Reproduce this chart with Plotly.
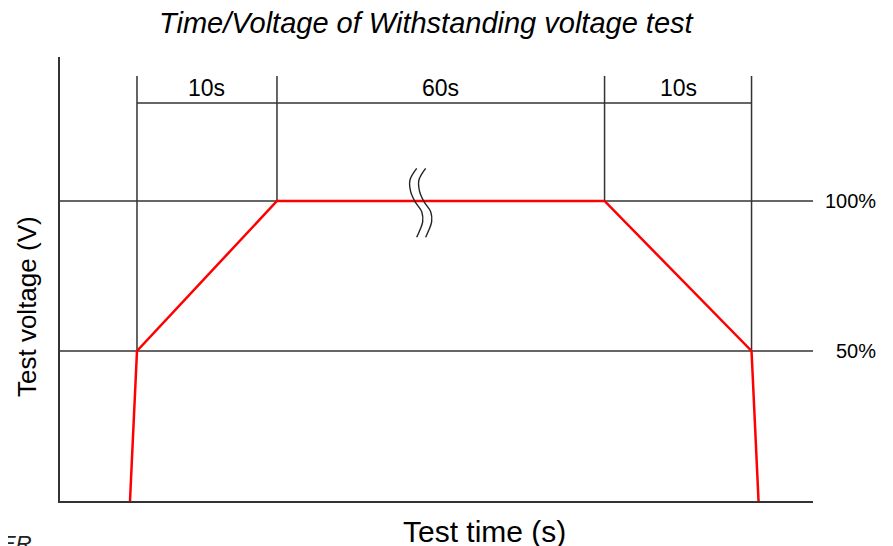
import plotly.graph_objects as go

# ---------------- data ----------------
# schematic time axis (s); the 60 s hold is drawn compressed (axis break)
curve_time = [-0.5, 0, 10, 33.4, 43.9, 44.4]
curve_voltage = [0, 50, 100, 100, 50, 0]          # % of test voltage

marker_time = [0, 10, 33.4, 43.9]                  # phase boundaries
marker_bottom = [50, 100, 100, 50]                 # where each boundary line ends
segment_labels = ["10s", "60s", "10s"]

level_values = [100, 50]
level_labels = ["100%", "50%"]

break_time = 20.3                                  # position of the axis-break glyph
break_level = 100

title_text = "Time/Voltage of Withstanding voltage test"
x_title = "Test time (s)"
y_title = "Test voltage (V)"
corner_text = "ER"

# ---------------- layout constants ----------------
X_RANGE = [-5.5, 48.29]
Y_RANGE = [0, 148]
DIM_Y = 132.7       # dimension line level
MARK_TOP = 141.7    # top of boundary lines
LINE_COL = "#333333"
FONT = "Liberation Sans, Arial, sans-serif"

W, H = 893, 546
OFF = 8                     # page body margin offset
ML, MT = 60 - OFF, 57 - OFF
pw, ph = 753, 444
MR, MB = W - ML - pw, H - MT - ph


def page_to_paper(px, py):
    fx, fy = px - OFF, py - OFF
    return (fx - ML) / pw, (H - fy - MB) / ph


fig = go.Figure()

# red time/voltage curve
fig.add_trace(go.Scatter(
    x=curve_time, y=curve_voltage, mode="lines",
    line=dict(color="#ff0000", width=2.5), hoverinfo="skip", showlegend=False,
))

shapes = []
for lv in level_values:
    shapes.append(dict(type="line", xref="x", yref="y", x0=X_RANGE[0], x1=X_RANGE[1],
                       y0=lv, y1=lv, line=dict(color=LINE_COL, width=1.5), layer="below"))
for t, b in zip(marker_time, marker_bottom):
    shapes.append(dict(type="line", xref="x", yref="y", x0=t, x1=t, y0=b, y1=MARK_TOP,
                       line=dict(color=LINE_COL, width=1.5), layer="below"))
shapes.append(dict(type="line", xref="x", yref="y", x0=marker_time[0], x1=marker_time[-1],
                   y0=DIM_Y, y1=DIM_Y, line=dict(color=LINE_COL, width=1.5), layer="below"))

# axis-break glyph: two S-shaped strokes (offsets relative to break position)
glyph_dx = [-0.32, -0.8, -0.75, -0.44, 0.04, 0.11, -0.09, -0.32]
glyph_dy = [10.9, 7.0, 3.1, -0.2, -3.6, -6.9, -9.7, -12.1]
for shift in (0.0, 0.64):
    fig.add_trace(go.Scatter(
        x=[break_time + d + shift for d in glyph_dx],
        y=[break_level + d for d in glyph_dy],
        mode="lines", line=dict(color="#222222", width=1.4, shape="spline"),
        hoverinfo="skip", showlegend=False,
    ))

annotations = []
for i, lab in enumerate(segment_labels):
    annotations.append(dict(x=(marker_time[i] + marker_time[i + 1]) / 2, y=DIM_Y, xref="x", yref="y",
                            text=lab, showarrow=False, xanchor="center", yanchor="middle", yshift=15,
                            font=dict(family=FONT, size=23, color="#000000")))
for lv, lab in zip(level_values, level_labels):
    annotations.append(dict(x=X_RANGE[1], y=lv, xref="x", yref="y", text=lab, showarrow=False,
                            xanchor="right", yanchor="middle", xshift=65,
                            font=dict(family=FONT, size=20, color="#000000")))


def page_ann(px, py, text, size, **kw):
    x, y = page_to_paper(px, py)
    d = dict(x=x, y=y, xref="paper", yref="paper", text=text, showarrow=False,
             xanchor=kw.pop("xanchor", "center"), yanchor=kw.pop("yanchor", "middle"),
             font=dict(family=FONT, size=size, color=kw.pop("color", "#000000")))
    d.update(kw)
    annotations.append(d)


page_ann(427, 23, "<i>" + title_text + "</i>", 29)
page_ann(484, 531, x_title, 30)
page_ann(27, 307, y_title, 26, textangle=-90)
page_ann(-1, 529, "<i>" + corner_text + "</i>", 22, xanchor="left", yanchor="top", color="#222222")

fig.update_layout(
    width=W, height=H,
    margin=dict(l=ML, r=MR, t=MT, b=MB, pad=0),
    plot_bgcolor="white", paper_bgcolor="white",
    shapes=shapes, annotations=annotations,
    xaxis=dict(range=X_RANGE, showgrid=False, zeroline=False, showticklabels=False, ticks="",
               showline=True, linecolor=LINE_COL, linewidth=1.5, fixedrange=True),
    yaxis=dict(range=Y_RANGE, showgrid=False, zeroline=False, showticklabels=False, ticks="",
               showline=True, linecolor=LINE_COL, linewidth=1.5, fixedrange=True),
    showlegend=False,
)

fig.write_html("out.html", config={"displayModeBar": False})
